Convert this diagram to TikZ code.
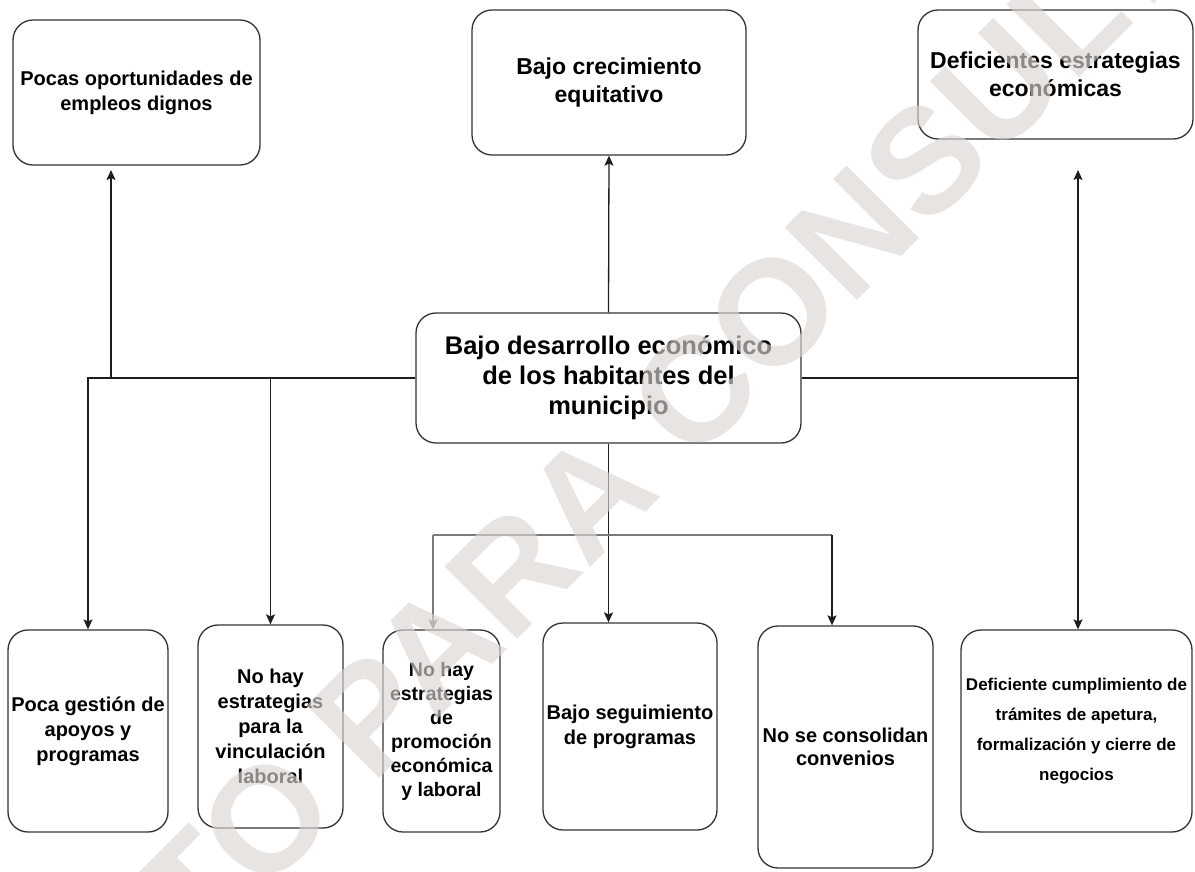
\documentclass[tikz,border=0pt]{standalone}
\usepackage{fontspec}
\setmainfont{Liberation Sans}
\usetikzlibrary{arrows.meta}
\definecolor{boxline}{HTML}{333333}
\definecolor{wire}{HTML}{1E1E1E}
\definecolor{wiregrey}{HTML}{7A7A7A}
\definecolor{wmark}{HTML}{DBD5D2}
\tikzset{
  cause/.style={draw=boxline, line width=1.3pt, rounded corners=20pt, align=center, inner sep=2pt, fill=white},
  arr/.style={-{Stealth[length=10pt,width=9pt,inset=2pt]}, draw=wire, line width=1.3pt},
  bar/.style={draw=wire, line width=1.3pt}
}

\begin{document}
\begin{tikzpicture}[x=1pt, y=-1pt, font=\bfseries]
  \useasboundingbox (0,0) rectangle (1195,871);

  % efectos
  \node[cause, minimum width=247pt, minimum height=145pt, font=\bfseries\fontsize{20}{25}\selectfont] (e1) at (136.5,92.5) {Pocas oportunidades de\\empleos dignos};
  \node[cause, minimum width=274pt, minimum height=145pt, font=\bfseries\fontsize{23}{28}\selectfont] (e2) at (609,82.5) {Bajo crecimiento\\equitativo};
  \node[cause, minimum width=275pt, minimum height=129pt, font=\bfseries\fontsize{23}{28}\selectfont] (e3) at (1055.5,74.5) {Deficientes estrategias\\económicas};

  % problema central
  \node[cause, minimum width=385pt, minimum height=130pt, font=\bfseries\fontsize{25.5}{30}\selectfont] (prob) at (608.5,378) {Bajo desarrollo económico\\de los habitantes del\\municipio};

  % causas
  \node[cause, minimum width=160pt, minimum height=202pt, font=\bfseries\fontsize{20}{25}\selectfont] (c1) at (88,731) {Poca gestión de\\apoyos y\\programas};
  \node[cause, minimum width=145pt, minimum height=203pt, font=\bfseries\fontsize{20}{25}\selectfont] (c2) at (270.5,726.5) {No hay\\estrategias\\para la\\vinculación\\laboral};
  \node[cause, minimum width=117pt, minimum height=202pt, font=\bfseries\fontsize{19.5}{24}\selectfont] (c3) at (441.5,731) {No hay\\estrategias\\de\\promoción\\económica\\y laboral};
  \node[cause, minimum width=174pt, minimum height=207pt, font=\bfseries\fontsize{20}{25}\selectfont] (c4) at (630,726.5) {Bajo seguimiento\\de programas};
  \node[cause, minimum width=175pt, minimum height=242pt, font=\bfseries\fontsize{20}{23}\selectfont] (c5) at (845.5,747) {No se consolidan\\convenios};
  \node[cause, minimum width=231pt, minimum height=202pt, font=\bfseries\fontsize{17}{30}\selectfont] (c6) at (1076.5,731) {Deficiente cumplimiento de\\trámites de apetura,\\formalización y cierre de\\negocios};

  \coordinate (e1tip) at (111,170);
  \coordinate (e3tip) at (1078,170);
  \coordinate (bl) at (433,535);
  \coordinate (br) at (832,535);

  % conectores
  \draw[arr] (prob.west) -| (c1.north);
  \draw[arr] (prob.west -| e1tip) -- (e1tip);
  \draw[arr] (prob.west -| c2.north) -- (c2.north);
  \draw[arr] (prob.north) -- (e2.south);
  \draw[arr] (prob.east) -| (e3tip);
  \draw[arr] (prob.east -| e3tip) -- (e3tip |- c6.north);
  \draw[arr] (prob.south) -- (prob.south |- c4.north);
  \draw[bar, draw=wiregrey] (bl) -- (br);
  \draw[arr, draw=wiregrey] (bl) -- (bl |- c3.north);
  \draw[arr] (br) -- (br |- c5.north);

  % marca de agua
  \begin{scope}
    \clip (0,0) rectangle (1195,871);
    \node[text=wmark, text opacity=0.64, rotate=45, inner sep=0pt, font=\bfseries\fontsize{149}{149}\selectfont] (wm) at (422,663) {DOCUMENTO PARA CONSULTA};
  \end{scope}
\end{tikzpicture}
\end{document}
